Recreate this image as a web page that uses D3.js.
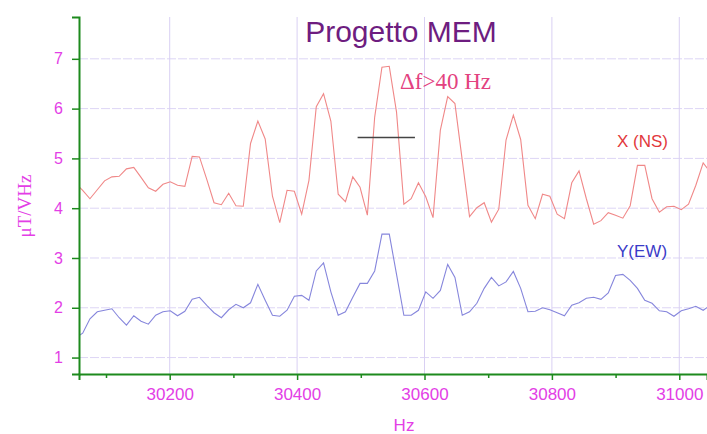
<!DOCTYPE html>
<html>
<head>
<meta charset="utf-8">
<script src="https://cdn.jsdelivr.net/npm/d3@7"></script>
<style>
  body { margin: 0; background: #fff; }
  #chart { width: 707px; height: 434px; }
  text { font-family: "Liberation Sans", Arial, sans-serif; }
</style>
</head>
<body>
<div id="chart"></div>
<script>
// frequency bins (Hz)
const freqs = [
  30051.9, 30063.4, 30074.8, 30086.3, 30097.7, 30109.2, 30120.7, 30132.1, 30143.6, 30155.0,
  30166.5, 30178.0, 30189.4, 30200.9, 30212.3, 30223.8, 30235.3, 30246.7, 30258.2, 30269.6,
  30281.1, 30292.6, 30304.0, 30315.5, 30326.9, 30338.4, 30349.9, 30361.3, 30372.8, 30384.2,
  30395.7, 30407.2, 30418.6, 30430.1, 30441.5, 30453.0, 30464.5, 30475.9, 30487.4, 30498.8,
  30510.3, 30521.8, 30533.2, 30544.7, 30556.1, 30567.6, 30579.1, 30590.5, 30602.0, 30613.4,
  30624.9, 30636.4, 30647.8, 30659.3, 30670.7, 30682.2, 30693.7, 30705.1, 30716.6, 30728.0,
  30739.5, 30751.0, 30762.4, 30773.9, 30785.3, 30796.8, 30808.3, 30819.7, 30831.2, 30842.6,
  30854.1, 30865.6, 30877.0, 30888.5, 30899.9, 30911.4, 30922.9, 30934.3, 30945.8, 30957.2,
  30968.7, 30980.2, 30991.6, 31003.1, 31014.5, 31026.0, 31037.5, 31048.9
];

// X (NS) component
const xNS = [
  4.50, 4.36, 4.19, 4.37, 4.55, 4.63, 4.64, 4.79, 4.82, 4.62,
  4.41, 4.34, 4.48, 4.53, 4.46, 4.44, 5.04, 5.03, 4.58, 4.11,
  4.07, 4.30, 4.05, 4.04, 5.30, 5.75, 5.39, 4.24, 3.71, 4.36,
  4.34, 3.88, 4.56, 6.04, 6.30, 5.75, 4.28, 4.13, 4.63, 4.42,
  3.86, 5.83, 6.83, 6.85, 5.93, 4.08, 4.19, 4.51, 4.23, 3.81,
  5.57, 6.24, 6.10, 4.96, 3.83, 4.01, 4.11, 3.72, 3.98, 5.37,
  5.87, 5.38, 4.06, 3.79, 4.28, 4.24, 3.88, 3.79, 4.51, 4.75,
  4.19, 3.68, 3.75, 3.91, 3.86, 3.80, 4.05, 4.86, 4.86, 4.19,
  3.92, 4.03, 4.04, 3.97, 4.08, 4.46, 4.91, 4.72
];

// Y (EW) component
const yEW = [
  1.39, 1.49, 1.78, 1.92, 1.95, 1.98, 1.80, 1.65, 1.84, 1.73,
  1.67, 1.85, 1.92, 1.94, 1.84, 1.93, 2.17, 2.21, 2.05, 1.90,
  1.80, 1.96, 2.07, 2.00, 2.10, 2.47, 2.15, 1.85, 1.83, 1.95,
  2.23, 2.25, 2.15, 2.74, 2.90, 2.32, 1.85, 1.92, 2.21, 2.49,
  2.49, 2.74, 3.48, 3.48, 2.67, 1.85, 1.85, 1.95, 2.32, 2.19,
  2.35, 2.87, 2.61, 1.85, 1.92, 2.09, 2.39, 2.61, 2.44, 2.52,
  2.73, 2.39, 1.92, 1.93, 2.00, 1.96, 1.90, 1.84, 2.05, 2.10,
  2.19, 2.21, 2.17, 2.30, 2.65, 2.67, 2.55, 2.39, 2.15, 2.09,
  1.94, 1.92, 1.83, 1.94, 1.98, 2.03, 1.95, 2.05
];

const xMajorTicks = [30200, 30400, 30600, 30800, 31000];
const xMinorTicks = [30100, 30300, 30500, 30700, 30900];
const yTicks = [1, 2, 3, 4, 5, 6, 7];

// delta-f marker: [f start, f end], level
const deltaSpan = [30495, 30585];
const deltaLevel = 5.42;

let svg = d3.select('#chart').append('svg')
            .attr('width', 707)
            .attr('height', 434);

let margin = {top: 17, right: 0, bottom: 60, left: 79},
    width = 707 - margin.left - margin.right,
    height = 434 - margin.top - margin.bottom;

let xScale = d3.scaleLinear()
              .domain([30057.6, 31043.5])
              .range([margin.left, margin.left + width]);

let yScale = d3.scaleLinear()
              .domain([0.67, 7.84])
              .range([margin.top + height, margin.top]);

let magenta = '#e33ee6';

svg.append('defs').append('clipPath')
      .attr('id', 'plot')
    .append('rect')
      .attr('x', margin.left)
      .attr('y', margin.top)
      .attr('width', width)
      .attr('height', height);

// grid
svg.append('g')
    .selectAll('line')
      .data(yTicks)
    .enter().append('line')
      .attr('x1', margin.left)
      .attr('x2', margin.left + width)
      .attr('y1', (d) => yScale(d))
      .attr('y2', (d) => yScale(d))
      .attr('stroke', '#ddd5f5')
      .attr('stroke-dasharray', '9,2')
      .attr('stroke-width', 1);

svg.append('g')
    .selectAll('line')
      .data(xMajorTicks)
    .enter().append('line')
      .attr('x1', (d) => xScale(d))
      .attr('x2', (d) => xScale(d))
      .attr('y1', margin.top)
      .attr('y2', margin.top + height)
      .attr('stroke', '#d9d0f3')
      .attr('stroke-width', 1);

// series
let line = (values) => d3.line()
                      .x((d, i) => xScale(freqs[i]))
                      .y((d) => yScale(d))(values);

let plot = svg.append('g').attr('clip-path', 'url(#plot)');

plot.append('path')
    .attr('d', line(xNS))
    .attr('fill', 'none')
    .attr('stroke', '#f08888')
    .attr('stroke-width', 1.1);

plot.append('path')
    .attr('d', line(yEW))
    .attr('fill', 'none')
    .attr('stroke', '#8686dc')
    .attr('stroke-width', 1.1);

// delta-f marker
svg.append('line')
    .attr('x1', xScale(deltaSpan[0]))
    .attr('x2', xScale(deltaSpan[1]))
    .attr('y1', yScale(deltaLevel))
    .attr('y2', yScale(deltaLevel))
    .attr('stroke', '#444')
    .attr('stroke-width', 1.6);

// axes
let xAxis = svg.append('g')
      .attr('transform', 'translate(0,' + (margin.top + height) + ')')
      .call(d3.axisBottom(xScale).tickValues(xMajorTicks).tickSize(6).tickFormat(d3.format('d')));

svg.append('g')
    .attr('transform', 'translate(0,' + (margin.top + height) + ')')
    .call(d3.axisBottom(xScale).tickValues(xMinorTicks).tickSize(4).tickFormat(''))
    .select('.domain').remove();

let yAxis = svg.append('g')
      .attr('transform', 'translate(' + margin.left + ',0)')
      .call(d3.axisLeft(yScale).tickValues(yTicks).tickSize(7).tickPadding(9));

svg.selectAll('.domain')
    .attr('stroke', '#1d8a1d')
    .attr('stroke-width', 2);
svg.selectAll('.tick line')
    .attr('stroke', '#1d8a1d')
    .attr('stroke-width', 1.5);

xAxis.selectAll('text')
    .attr('y', 26)
    .attr('dy', 0)
    .attr('fill', magenta)
    .style('font-size', '17px');

yAxis.selectAll('text')
    .attr('fill', magenta)
    .style('font-size', '16px');

// labels
svg.append('text')
    .attr('x', 401)
    .attr('y', 42)
    .attr('text-anchor', 'middle')
    .attr('fill', '#6e1d80')
    .style('font-size', '30px')
    .text('Progetto MEM');

svg.append('text')
    .attr('x', 404)
    .attr('y', 431)
    .attr('text-anchor', 'middle')
    .attr('fill', magenta)
    .style('font-size', '17px')
    .text('Hz');

svg.append('text')
    .attr('transform', 'translate(31,206) rotate(-90)')
    .attr('text-anchor', 'middle')
    .attr('fill', magenta)
    .style('font-family', '"Liberation Serif", "Times New Roman", serif')
    .style('font-size', '19px')
    .text('μT/VHz');

svg.append('text')
    .attr('x', 400)
    .attr('y', 89)
    .attr('fill', '#e3427f')
    .style('font-family', '"Liberation Serif", "Times New Roman", serif')
    .style('font-size', '23px')
    .text('Δf>40 Hz');

svg.append('text')
    .attr('x', 617)
    .attr('y', 147)
    .attr('fill', '#e2383c')
    .style('font-size', '17px')
    .text('X (NS)');

svg.append('text')
    .attr('x', 617)
    .attr('y', 257)
    .attr('fill', '#3a3ac8')
    .style('font-size', '17px')
    .text('Y(EW)');
</script>
</body>
</html>
